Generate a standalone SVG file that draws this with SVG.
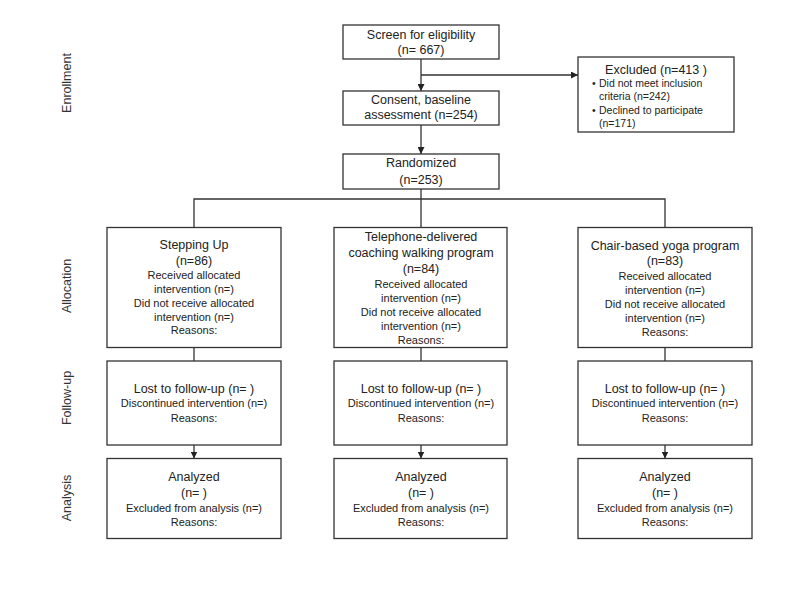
<svg xmlns="http://www.w3.org/2000/svg" width="800" height="600" viewBox="0 0 800 600">
<style>
  .box { fill: #ffffff; stroke: #333333; stroke-width: 1.3; }
  .ln { fill: none; stroke: #333333; stroke-width: 1.3; }
  text { font-family: "Liberation Sans", Arial, sans-serif; fill: #222222; }
  .t { font-size: 12.5px; text-anchor: middle; }
  .s { font-size: 11px; text-anchor: middle; }
  .b { font-size: 10.5px; }
  .lab { font-size: 12.5px; text-anchor: middle; fill: #333333; }
</style>
<defs>
  <marker id="arr" viewBox="0 0 10 10" refX="10" refY="5" markerWidth="7" markerHeight="7" markerUnits="userSpaceOnUse" orient="auto">
    <path d="M0,0 L10,5 L0,10 Z" fill="#222222"/>
  </marker>
</defs>
<rect width="800" height="600" fill="#ffffff"/>

<g id="section-labels">
  <text class="lab" transform="translate(71,83) rotate(-90)">Enrollment</text>
  <text class="lab" transform="translate(71,286) rotate(-90)">Allocation</text>
  <text class="lab" transform="translate(71,398) rotate(-90)">Follow-up</text>
  <text class="lab" transform="translate(71,498) rotate(-90)">Analysis</text>
</g>

<g id="connectors">
  <line class="ln" x1="421" y1="59" x2="421" y2="91" marker-end="url(#arr)"/>
  <line class="ln" x1="421" y1="75" x2="578" y2="75" marker-end="url(#arr)"/>
  <line class="ln" x1="421" y1="125" x2="421" y2="154" marker-end="url(#arr)"/>
  <line class="ln" x1="421" y1="189" x2="421" y2="228"/>
  <polyline class="ln" points="194,227.5 194,199 665,199 665,228"/>
  <line class="ln" x1="194" y1="347.5" x2="194" y2="361"/>
  <line class="ln" x1="421" y1="347.5" x2="421" y2="361"/>
  <line class="ln" x1="665" y1="347.5" x2="665" y2="361"/>
  <line class="ln" x1="194" y1="445" x2="194" y2="458.5" marker-end="url(#arr)"/>
  <line class="ln" x1="421" y1="445" x2="421" y2="458.5" marker-end="url(#arr)"/>
  <line class="ln" x1="665" y1="445" x2="665" y2="458.5" marker-end="url(#arr)"/>
</g>

<g id="screen">
  <rect class="box" x="343" y="25" width="156" height="34"/>
  <text class="t" x="421" y="39">Screen for eligibility</text>
  <text class="t" x="421" y="54">(n= 667)</text>
</g>

<g id="consent">
  <rect class="box" x="343" y="91" width="156" height="34"/>
  <text class="t" x="421" y="104">Consent, baseline</text>
  <text class="t" x="421" y="119">assessment (n=254)</text>
</g>

<g id="randomized">
  <rect class="box" x="343" y="154" width="156" height="35"/>
  <text class="t" x="421" y="167">Randomized</text>
  <text class="t" x="421" y="184">(n=253)</text>
</g>

<g id="excluded">
  <rect class="box" x="578" y="57" width="156" height="75"/>
  <text class="t" x="656" y="74">Excluded (n=413 )</text>
  <text class="b" x="592" y="87">•</text>
  <text class="b" x="599" y="87">Did not meet inclusion</text>
  <text class="b" x="599" y="100">criteria (n=242)</text>
  <text class="b" x="592" y="114">•</text>
  <text class="b" x="599" y="114">Declined to participate</text>
  <text class="b" x="599" y="127">(n=171)</text>
</g>

<g id="alloc-stepping-up">
  <rect class="box" x="107" y="227.5" width="174" height="120"/>
  <text class="t" x="194" y="249">Stepping Up</text>
  <text class="t" x="194" y="265">(n=86)</text>
  <text class="s" x="194" y="279">Received allocated</text>
  <text class="s" x="194" y="293">intervention (n=)</text>
  <text class="s" x="194" y="307">Did not receive allocated</text>
  <text class="s" x="194" y="321">intervention (n=)</text>
  <text class="s" x="194" y="334">Reasons:</text>
</g>

<g id="alloc-telephone">
  <rect class="box" x="334" y="227.5" width="173" height="120"/>
  <text class="t" x="421" y="241">Telephone-delivered</text>
  <text class="t" x="421" y="257">coaching walking program</text>
  <text class="t" x="421" y="273">(n=84)</text>
  <text class="s" x="421" y="288">Received allocated</text>
  <text class="s" x="421" y="302">intervention (n=)</text>
  <text class="s" x="421" y="316">Did not receive allocated</text>
  <text class="s" x="421" y="330">intervention (n=)</text>
  <text class="s" x="421" y="344">Reasons:</text>
</g>

<g id="alloc-yoga">
  <rect class="box" x="578" y="227.5" width="174" height="120"/>
  <text class="t" x="665" y="250">Chair-based yoga program</text>
  <text class="t" x="665" y="265">(n=83)</text>
  <text class="s" x="665" y="280">Received allocated</text>
  <text class="s" x="665" y="294">intervention (n=)</text>
  <text class="s" x="665" y="308">Did not receive allocated</text>
  <text class="s" x="665" y="322">intervention (n=)</text>
  <text class="s" x="665" y="336">Reasons:</text>
</g>

<g id="followup-1">
  <rect class="box" x="107" y="361" width="174" height="84"/>
  <text class="t" x="194" y="393">Lost to follow-up (n= )</text>
  <text class="s" x="194" y="407">Discontinued intervention (n=)</text>
  <text class="s" x="194" y="422">Reasons:</text>
</g>

<g id="followup-2">
  <rect class="box" x="334" y="361" width="173" height="84"/>
  <text class="t" x="421" y="393">Lost to follow-up (n= )</text>
  <text class="s" x="421" y="407">Discontinued intervention (n=)</text>
  <text class="s" x="421" y="422">Reasons:</text>
</g>

<g id="followup-3">
  <rect class="box" x="578" y="361" width="174" height="84"/>
  <text class="t" x="665" y="393">Lost to follow-up (n= )</text>
  <text class="s" x="665" y="407">Discontinued intervention (n=)</text>
  <text class="s" x="665" y="422">Reasons:</text>
</g>

<g id="analysis-1">
  <rect class="box" x="107" y="458.5" width="174" height="80"/>
  <text class="t" x="194" y="481">Analyzed</text>
  <text class="t" x="194" y="497">(n= )</text>
  <text class="s" x="194" y="512">Excluded from analysis (n=)</text>
  <text class="s" x="194" y="526">Reasons:</text>
</g>

<g id="analysis-2">
  <rect class="box" x="334" y="458.5" width="173" height="80"/>
  <text class="t" x="421" y="481">Analyzed</text>
  <text class="t" x="421" y="497">(n= )</text>
  <text class="s" x="421" y="512">Excluded from analysis (n=)</text>
  <text class="s" x="421" y="526">Reasons:</text>
</g>

<g id="analysis-3">
  <rect class="box" x="578" y="458.5" width="174" height="80"/>
  <text class="t" x="665" y="481">Analyzed</text>
  <text class="t" x="665" y="497">(n= )</text>
  <text class="s" x="665" y="512">Excluded from analysis (n=)</text>
  <text class="s" x="665" y="526">Reasons:</text>
</g>
</svg>
